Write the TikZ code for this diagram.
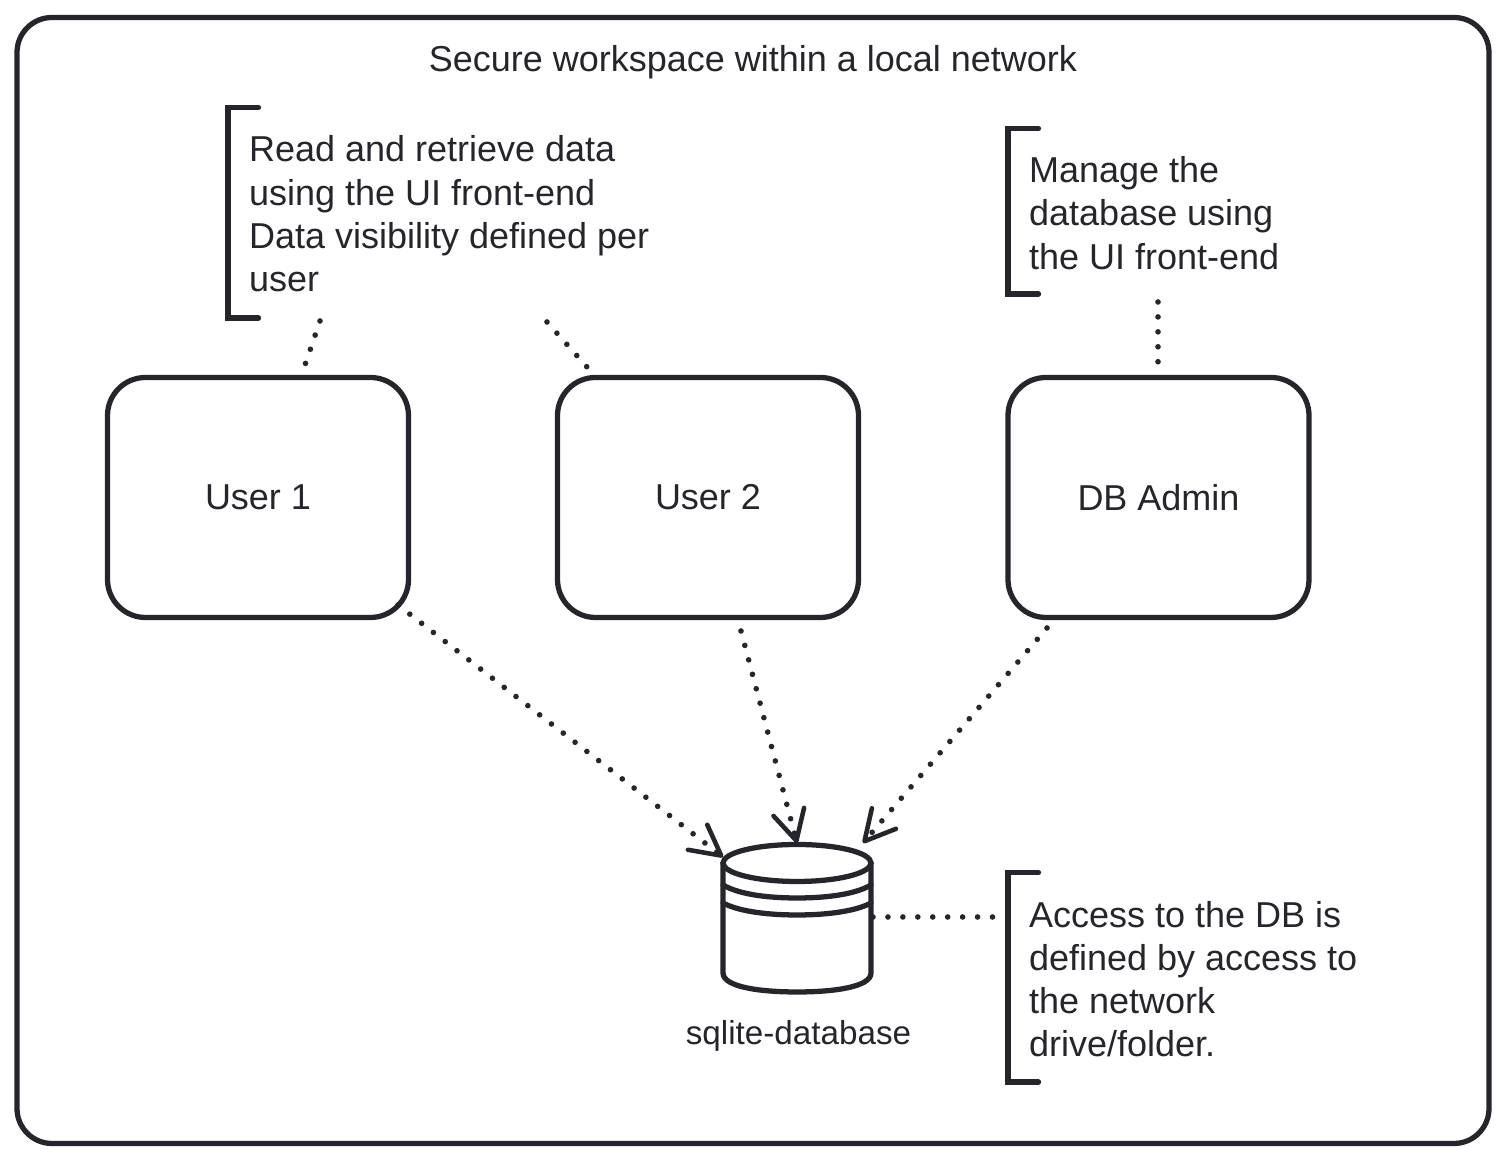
\documentclass[tikz,border=0pt]{standalone}
\usepackage{fontspec}
\setmainfont{Liberation Sans}
\usetikzlibrary{arrows.meta}
\definecolor{inkdark}{HTML}{25262B}
\tikzset{
  % boxes of the three actors
  actor box/.style={draw=inkdark, line width=1.5pt, rounded corners=0.38cm,
    minimum width=3.01cm, minimum height=2.40cm, text=inkdark,
    font=\fontsize{10.24}{12.3}\selectfont},
  outer frame/.style={draw=inkdark, line width=1.5pt, rounded corners=0.35cm,
    minimum width=14.72cm, minimum height=11.26cm},
  note text/.style={anchor=west, align=left, inner sep=0pt, text=inkdark,
    font=\fontsize{10.24}{12.3}\selectfont},
  bracket/.style={draw=inkdark, line width=1.5pt, line cap=round},
  db line/.style={draw=inkdark, line width=1.5pt, line cap=round},
  dotted link/.style={draw=inkdark, line width=1.6pt, line cap=round,
    dash pattern=on 0pt off 4.25pt},
  dotted arrow/.style={dotted link,
    -{Straight Barb[length=8.5pt, width=9pt, round, line width=1.3pt]}}
}
\begin{document}
\begin{tikzpicture}
  \useasboundingbox (0,0) rectangle (15.06,11.61);

  \node[outer frame] (frame) at (7.53,5.805) {};
  \node[note text, anchor=center] (title) at (7.53,10.99) {Secure workspace within a local network};

  \node[actor box] (user1) at (2.58,6.635) {User 1};
  \node[actor box] (user2) at (7.08,6.635) {User 2};
  \node[actor box] (admin) at (11.585,6.635) {DB Admin};

  % note blocks
  \draw[bracket] (2.585,10.535) -- (2.28,10.535) -- (2.28,8.43) -- (2.585,8.43);
  \node[note text] (note1) at (2.485,9.47) {Read and retrieve data\\using the UI front-end\\Data visibility defined per\\user};
  \draw[bracket] (10.385,10.325) -- (10.08,10.325) -- (10.08,8.67) -- (10.385,8.67);
  \node[note text] (note2) at (10.285,9.48) {Manage the\\database using\\the UI front-end};
  \draw[bracket] (10.385,2.885) -- (10.08,2.885) -- (10.08,0.79) -- (10.385,0.79);
  \node[note text] (note3) at (10.285,1.82) {Access to the DB is\\defined by access to\\the network\\drive/folder.};

  % database
  \draw[db line] (7.23,2.98) -- (7.23,1.88) .. controls (7.23,1.74) and (7.60,1.69) .. (7.97,1.69)
    .. controls (8.34,1.69) and (8.71,1.74) .. (8.71,1.88) -- (8.71,2.98);
  \draw[db line] (7.97,2.98) ellipse (0.74cm and 0.185cm);
  \draw[db line] (7.23,2.76) .. controls (7.40,2.66) and (7.70,2.63) .. (7.97,2.63)
    .. controls (8.24,2.63) and (8.54,2.66) .. (8.71,2.76);
  \draw[db line] (7.23,2.58) .. controls (7.40,2.49) and (7.70,2.46) .. (7.97,2.46)
    .. controls (8.24,2.46) and (8.54,2.49) .. (8.71,2.58);
  \node[note text, anchor=center, font=\fontsize{9.45}{11}\selectfont] (dblabel) at (7.985,1.255) {sqlite-database};

  % end points of the links
  \coordinate (dbleft) at (7.23,3.04);
  \coordinate (dbtop) at (7.97,3.18);
  \coordinate (dbright) at (8.63,3.18);
  \coordinate (dbside) at (8.73,2.44);
  \coordinate (note3side) at (9.95,2.44);
  \coordinate (note1a) at (3.20,8.40);
  \coordinate (note1b) at (5.47,8.39);
  \coordinate (note2a) at (11.58,8.59);
  \coordinate (user1top) at (3.05,7.96);
  \coordinate (user2top) at (5.87,7.94);
  \coordinate (admintop) at (11.58,7.96);
  \coordinate (user1low) at (3.98,5.56);
  \coordinate (user2low) at (7.41,5.30);
  \coordinate (adminlow) at (10.47,5.33);

  \draw[dotted link] (note1a) -- (user1top);
  \draw[dotted link] (note1b) -- (user2top);
  \draw[dotted link] (note2a) -- (admintop);
  \draw[dotted link] (dbside) -- (note3side);
  \draw[dotted arrow] (user1low) -- (dbleft);
  \draw[dotted arrow] (user2low) -- (dbtop);
  \draw[dotted arrow] (adminlow) -- (dbright);
\end{tikzpicture}
\end{document}
